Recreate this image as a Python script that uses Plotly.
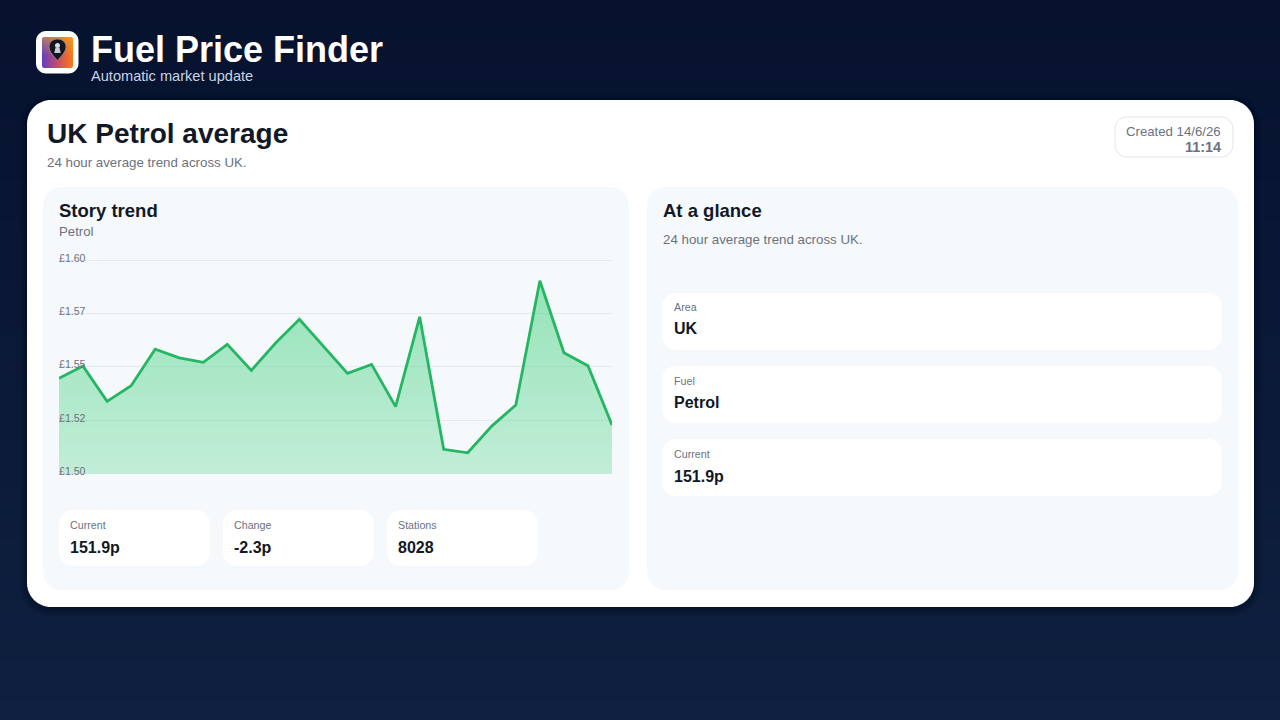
import base64
import plotly.graph_objects as go

W, H = 1280, 720

hours = list(range(24))
price = [1.5446, 1.5503, 1.5338, 1.5411, 1.5582, 1.5542, 1.5521, 1.5605, 1.5483, 1.5610, 1.5722, 1.5597,
         1.5469, 1.5511, 1.5313, 1.5734, 1.5113, 1.5097, 1.5222, 1.5321, 1.5903, 1.5566, 1.5505, 1.5227]
baseline = [1.50] * 24
tick_values = [1.50, 1.525, 1.55, 1.575, 1.60]
tick_labels = ["£1.50", "£1.52", "£1.55", "£1.57", "£1.60"]

FONT = "Liberation Sans"
INK = "#111827"
MUTED = "#6b7280"
PANEL = "#f6f9fc"


def px(x):
    return x / W


def py(y):
    return 1 - y / H


def rrect(x0, y0, x1, y1, r, fill, line=None, layer="below", lw=1):
    k = 0.5523 * r
    a, b, c, d = px(x0), px(x1), py(y0), py(y1)
    rx, ry = r / W, r / H
    kx, ky = k / W, k / H
    p = (f"M{a+rx},{c} L{b-rx},{c} C{b-rx+kx},{c} {b},{c-ry+ky} {b},{c-ry} "
         f"L{b},{d+ry} C{b},{d+ry-ky} {b-rx+kx},{d} {b-rx},{d} "
         f"L{a+rx},{d} C{a+rx-kx},{d} {a},{d+ry-ky} {a},{d+ry} "
         f"L{a},{c-ry} C{a},{c-ry+ky} {a+rx-kx},{c} {a+rx},{c} Z")
    return dict(type="path", xref="paper", yref="paper", path=p, fillcolor=fill, layer=layer,
                line=dict(color=line or "rgba(0,0,0,0)", width=lw if line else 0))


shapes = []
top, bot = (6, 18, 46), (15, 32, 64)
bands = 72
for i in range(bands):
    t = i / (bands - 1)
    col = "rgb(%d,%d,%d)" % tuple(round(top[j] + (bot[j] - top[j]) * t) for j in range(3))
    shapes.append(dict(type="rect", xref="paper", yref="paper", x0=0, x1=1,
                       y0=py(min((i + 1) * H / bands + 0.5, H)), y1=py(i * H / bands), fillcolor=col,
                       line=dict(width=0), layer="below"))

shapes.append(rrect(36, 31, 78.5, 73.5, 10, "#ffffff"))
for g in range(8, 0, -1):
    shapes.append(rrect(27 - g, 100 - g + 2, 1254 + g, 607 + g + 2, 24 + g, "rgba(0,0,0,0.018)"))
shapes.append(rrect(27, 100, 1254, 607, 24, "#ffffff"))
shapes.append(rrect(1115, 117, 1233, 157, 12, "#ffffff", line="#e1e5ea"))
shapes.append(rrect(43, 187, 629, 590, 18, PANEL))
shapes.append(rrect(647, 187, 1238, 590, 18, PANEL))
for x0, x1 in [(59, 210), (223, 374), (387, 538)]:
    shapes.append(rrect(x0, 510, x1, 566, 14, "#ffffff"))
for y0, y1 in [(293, 350), (366, 423), (439, 496)]:
    shapes.append(rrect(662, y0, 1222, y1, 14, "#ffffff"))
# hides the gridlines behind the tick labels
shapes.append(dict(type="rect", xref="paper", yref="paper", x0=px(58), x1=px(92), y0=py(480), y1=py(250),
                   fillcolor=PANEL, line=dict(width=0), layer="between"))

logo_svg = """<svg xmlns='http://www.w3.org/2000/svg' width='31' height='31' viewBox='0 0 31 31'>
<defs><linearGradient id='g' x1='0' y1='0' x2='1' y2='0'><stop offset='0' stop-color='#5e3fc4'/>
<stop offset='0.45' stop-color='#c04a70'/><stop offset='1' stop-color='#fb7a14'/></linearGradient>
<linearGradient id='h' x1='0' y1='0' x2='0' y2='1'><stop offset='0' stop-color='#f8b818' stop-opacity='0.5'/>
<stop offset='0.6' stop-color='#f8b818' stop-opacity='0'/></linearGradient></defs>
<rect width='31' height='31' rx='2.5' fill='url(#g)'/><rect width='31' height='31' rx='2.5' fill='url(#h)'/>
<path d='M15.5 23.5 C12 19.5 7 15 7 9.8 C7 5 11 2 15.5 2 C20 2 24 5 24 9.8 C24 15 19 19.5 15.5 23.5 Z' fill='#14171f' stroke='#8a8fa0' stroke-width='0.9'/>
<circle cx='15.5' cy='8.5' r='2.5' fill='#d8dce6'/><path d='M12.3 16 L13.5 10.8 L17.5 10.8 L18.7 16 Z' fill='#c8ccd8'/>
</svg>"""
logo_uri = "data:image/svg+xml;base64," + base64.b64encode(logo_svg.encode()).decode()

texts = [
    ("Fuel Price Finder", 90, 50, 36, "#ffffff", True, "left"),
    ("Automatic market update", 90, 76, 14.6, "#c8d3e6", False, "left"),
    ("UK Petrol average", 46, 133, 28, INK, True, "left"),
    ("24 hour average trend across UK.", 46, 163, 13.3, MUTED, False, "left"),
    ("Created 14/6/26", 1222, 131.5, 13.2, MUTED, False, "right"),
    ("11:14", 1222, 146.5, 14.4, MUTED, True, "right"),
    ("Story trend", 58, 210, 18.5, INK, True, "left"),
    ("Petrol", 58, 232, 13.2, MUTED, False, "left"),
    ("At a glance", 662, 210, 18.5, INK, True, "left"),
    ("24 hour average trend across UK.", 662, 240, 13.3, MUTED, False, "left"),
    ("Current", 68.5, 525, 10.7, MUTED, False, "left"),
    ("151.9p", 68.5, 547, 16, INK, True, "left"),
    ("Change", 232.5, 525, 10.7, MUTED, False, "left"),
    ("-2.3p", 232.5, 547, 16, INK, True, "left"),
    ("Stations", 396.5, 525, 10.7, MUTED, False, "left"),
    ("8028", 396.5, 547, 16, INK, True, "left"),
    ("Area", 672.5, 307.5, 10.7, MUTED, False, "left"),
    ("UK", 672.5, 329, 16, INK, True, "left"),
    ("Fuel", 672.5, 380.5, 10.7, MUTED, False, "left"),
    ("Petrol", 672.5, 402, 16, INK, True, "left"),
    ("Current", 672.5, 453.5, 10.7, MUTED, False, "left"),
    ("151.9p", 672.5, 476, 16, INK, True, "left"),
]
annotations = [
    dict(text=f"<b>{t}</b>" if b else t, x=px(x), y=py(y), xref="paper", yref="paper", xanchor=a, yanchor="middle",
         showarrow=False, borderpad=0, font=dict(family=FONT, size=s, color=c))
    for t, x, y, s, c, b, a in texts
]

fig = go.Figure()
fig.add_trace(go.Scatter(x=hours, y=baseline, mode="lines", line=dict(width=0), hoverinfo="skip", showlegend=False))
fig.add_trace(go.Scatter(
    x=hours, y=price, mode="lines", fill="tonexty",
    line=dict(color="#26b563", width=2.8, shape="linear"),
    fillgradient=dict(type="vertical", start=1.50, stop=1.58,
                      colorscale=[[0, "rgba(46,204,113,0.26)"], [1, "rgba(46,204,113,0.46)"]]),
    hoverinfo="skip", showlegend=False,
))
PAD = 0.01  # data-unit padding so the end ticks stay inside the axis
PX_PER_UNIT = 2135
fig.update_layout(
    width=W, height=H, margin=dict(l=0, r=0, t=0, b=0), autosize=False,
    paper_bgcolor="#0a1634", plot_bgcolor="rgba(0,0,0,0)",
    shapes=shapes, annotations=annotations,
    images=[dict(source=logo_uri, xref="paper", yref="paper", x=px(42), y=py(37), sizex=31 / W, sizey=31 / H,
                 xanchor="left", yanchor="top", sizing="stretch", layer="above")],
    xaxis=dict(domain=[px(59), px(612)], range=[0, 23], visible=False, fixedrange=True),
    yaxis=dict(domain=[py(473.5 + PAD * PX_PER_UNIT), py(260 - PAD * PX_PER_UNIT)],
               range=[1.5 - PAD, 1.6 + PAD], tickvals=tick_values, ticktext=tick_labels,
               ticklabelposition="inside", ticks="", showline=False, zeroline=False, fixedrange=True,
               gridcolor="#e6eaef", gridwidth=1, ticklabelshift=-2, ticklabelstandoff=-3,
               tickfont=dict(family=FONT, size=10.6, color=MUTED)),
)
fig.write_html("out.html", config=dict(displayModeBar=False),
               post_script="document.body.style.margin='0';document.body.style.overflow='hidden';")
